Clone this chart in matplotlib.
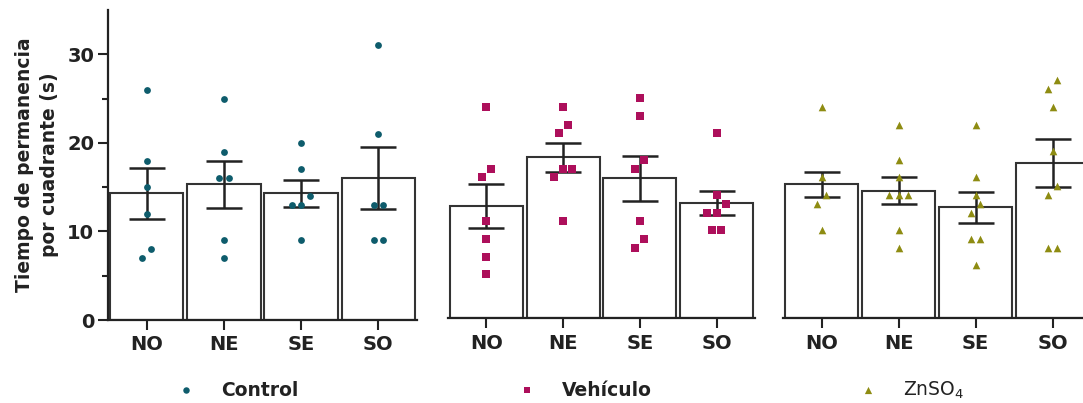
import numpy as np
import matplotlib.pyplot as plt

quadrants = ["NO", "NE", "SE", "SO"]
groups = ["Control", "Vehículo", "ZnSO$_4$"]

# valores individuales (s) por cuadrante
control_pts = [
    [26, 18, 15, 12, 8, 7],
    [25, 19, 16, 16, 9, 7],
    [20, 17, 14, 13, 13, 9],
    [31, 21, 13, 13, 9, 9],
]
vehiculo_pts = [
    [24, 17, 16, 11, 9, 7, 5],
    [24, 22, 21, 17, 17, 16, 11],
    [25, 23, 18, 17, 11, 9, 8],
    [21, 14, 13, 12, 12, 10, 10],
]
znso4_pts = [
    [24, 16, 14, 13, 10],
    [22, 18, 16, 14, 14, 14, 10, 8],
    [22, 16, 14, 13, 12, 9, 9, 6],
    [27, 26, 24, 19, 15, 14, 8, 8],
]

# media y EEM
control_mean = [14.3, 15.3, 14.3, 16.0]
control_sem = [2.9, 2.7, 1.55, 3.5]
vehiculo_mean = [12.7, 18.3, 15.9, 13.1]
vehiculo_sem = [2.5, 1.65, 2.55, 1.4]
znso4_mean = [15.2, 14.5, 12.6, 17.6]
znso4_sem = [1.45, 1.55, 1.75, 2.7]

colors = ["#0e5c6c", "#ad0f5b", "#8e8c12"]
markers = ["o", "s", "^"]
msizes = [24, 26, 30]


def swarm_offsets(vals, step=0.12, gap=1.5):
    """Desplazamiento horizontal para puntos con valores cercanos"""
    vals = np.asarray(vals, dtype=float)
    order = np.argsort(vals, kind="stable")
    offs = np.zeros(len(vals))
    rows, row = [], []
    for i in order:
        if row and vals[i] - vals[row[0]] >= gap:
            rows.append(row)
            row = []
        row.append(i)
    if row:
        rows.append(row)
    for r in rows:
        k = len(r)
        for j, idx in enumerate(r):
            offs[idx] = (j - (k - 1) / 2) * step
    return offs


W, H = 1083, 403
fig = plt.figure(figsize=(W / 100, H / 100), dpi=100)

# posiciones de los paneles en pixeles: (izq, der, base)
panels_px = [(108, 417, 320), (448, 755, 318.3), (783, 1091, 318.3)]
top_px = 10
legend_px = [(186, 221), (527, 562), (868, 903)]

all_pts = [control_pts, vehiculo_pts, znso4_pts]
all_mean = [control_mean, vehiculo_mean, znso4_mean]
all_sem = [control_sem, vehiculo_sem, znso4_sem]

# eje auxiliar en pixeles para la leyenda
lax = fig.add_axes([0, 0, 1, 1], facecolor="none")
lax.set_xlim(0, W)
lax.set_ylim(H, 0)
lax.axis("off")

dark = "#222222"
for p, (l, r, b) in enumerate(panels_px):
    ax = fig.add_axes([l / W, (H - b) / H, (r - l) / W, (b - top_px) / H])
    x = np.arange(len(quadrants))
    ax.bar(x, all_mean[p], width=0.95, color="white", edgecolor="#333333",
           linewidth=1.5, zorder=1)
    ax.errorbar(x, all_mean[p], yerr=all_sem[p], fmt="none", ecolor=dark,
                elinewidth=1.8, capsize=13, capthick=1.8, zorder=3)
    for i, vals in enumerate(all_pts[p]):
        ax.scatter(i + swarm_offsets(vals), vals, s=msizes[p], marker=markers[p],
                   color=colors[p], linewidths=0, zorder=4, clip_on=False)

    ax.set_xlim(-0.5, 3.5)
    ax.set_ylim(0, 35)
    for s in ["top", "right"]:
        ax.spines[s].set_visible(False)
    ax.spines["bottom"].set_linewidth(1.6)
    ax.spines["bottom"].set_color(dark)
    ax.set_xticks(x)
    ax.set_xticklabels(quadrants, fontsize=14, fontweight="bold", color=dark)
    ax.tick_params(axis="x", length=7, width=1.5, color=dark, pad=4)
    if p == 0:
        ax.spines["left"].set_linewidth(1.6)
        ax.spines["left"].set_color(dark)
        ax.set_yticks([0, 10, 20, 30])
        ax.set_yticks([5, 15, 25], minor=True)
        ax.set_yticklabels(["0", "10", "20", "30"], fontsize=14,
                           fontweight="bold", color=dark)
        ax.tick_params(axis="y", which="major", length=7, width=1.5,
                       color=dark, pad=3)
        ax.tick_params(axis="y", which="minor", length=4, width=1.5,
                       color=dark)
    else:
        ax.spines["left"].set_visible(False)
        ax.set_yticks([])

    # leyenda
    mx, tx = legend_px[p]
    lax.scatter([mx], [390], s=msizes[p] * 0.9, marker=markers[p],
                color=colors[p], linewidths=0)
    lax.text(tx, 390, groups[p], fontsize=13.5,
             fontweight="normal" if p == 2 else "bold",
             color=dark, ha="left", va="center")

fig.text(37 / W, (H - 165) / H, "Tiempo de permanencia\npor cuadrante (s)",
         rotation=90, ha="center", va="center", fontsize=13.5,
         fontweight="bold", color=dark, linespacing=1.45)

fig.savefig("out.png", dpi=100)
